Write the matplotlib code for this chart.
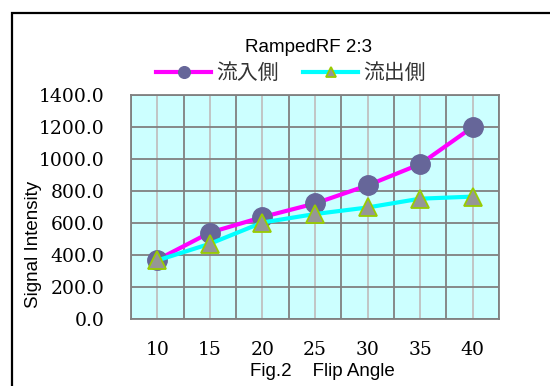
import numpy as np
import matplotlib.pyplot as plt
from matplotlib.patches import Rectangle

# Flip angle vs signal intensity, inflow / outflow side
flip_angles = ['10', '15', '20', '25', '30', '35', '40']
inflow = [370, 540, 637, 722, 835, 968, 1200]
outflow = [366, 470, 603, 656, 697, 752, 765]
yticks = [0, 200, 400, 600, 800, 1000, 1200, 1400]

plt.rcParams['font.family'] = ['Liberation Sans', 'Noto Sans CJK JP', 'DejaVu Sans']

fig = plt.figure(figsize=(5.5, 3.86), dpi=100)
fig.patch.set_facecolor('white')

# outer frame of the chart area (right and bottom edges run off the page)
fig.patches.append(Rectangle((12 / 550, -0.2), 1.2, 1.2 - 13 / 386,
                             transform=fig.transFigure, fill=False,
                             edgecolor='black', linewidth=1.6, zorder=0))

ax = fig.add_axes([131 / 550, 1 - 319 / 386, 368 / 550, 224 / 386])
ax.set_facecolor('#ccffff')

x = np.arange(len(flip_angles))
ax.set_xlim(-0.5, len(flip_angles) - 0.5)
ax.set_ylim(0, 1400)

# grid: dark lines between categories and every 200, light lines on categories
for xb in np.arange(-0.5, len(flip_angles), 1.0):
    ax.axvline(xb, color='#808080', lw=1.3, zorder=1)
for xc in x:
    ax.axvline(xc, color='#c0c0c0', lw=1.3, zorder=1)
for yv in yticks:
    ax.axhline(yv, color='#808080', lw=1.3, zorder=1)

l1, = ax.plot(x, inflow, color='#ff00ff', lw=3, marker='o', markersize=14,
              markerfacecolor='#666699', markeredgecolor='#666699',
              label='流入側', zorder=3, clip_on=False)
l2, = ax.plot(x, outflow, color='#00ffff', lw=3, marker='^', markersize=13,
              markerfacecolor='#969696', markeredgecolor='#99cc00',
              markeredgewidth=1.3, label='流出側', zorder=4, clip_on=False)

for s in ax.spines.values():
    s.set_color('#808080')
    s.set_linewidth(1.3)

ax.set_xticks(x)
ax.set_xticklabels(flip_angles, family='DejaVu Serif', fontsize=13.5)
ax.set_yticks(yticks)
ax.set_yticklabels([f'{v:.1f}' for v in yticks], family='DejaVu Serif', fontsize=13.5)
ax.tick_params(length=0)
ax.tick_params(axis='y', pad=19)
ax.tick_params(axis='x', pad=16)

fig.text(33 / 550, 1 - 244 / 386, 'Signal Intensity', rotation=90,
         ha='center', va='center', fontsize=13.5)
fig.text(322 / 550, 1 - 372 / 386, 'Fig.2    Flip Angle',
         ha='center', va='center', fontsize=13.5)
fig.text(308 / 550, 1 - 47 / 386, 'RampedRF 2:3',
         ha='center', va='center', fontsize=13.5)

fig.legend(handles=[l1, l2], loc='center', bbox_to_anchor=(291 / 550, 1 - 73 / 386),
           ncol=2, frameon=False, fontsize=15, handlelength=2.65,
           handletextpad=0.25, columnspacing=1.15, labelcolor='#333333',
           markerscale=0.6, borderpad=0, borderaxespad=0)

fig.savefig('out.png', dpi=100)
